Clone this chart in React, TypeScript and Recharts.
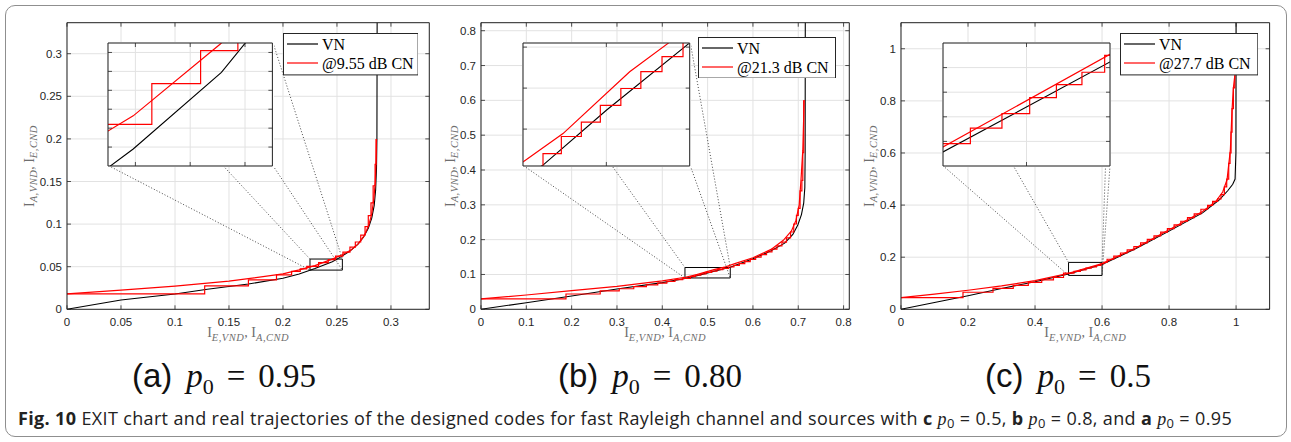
import React from 'react';
import { LineChart, Line, XAxis, YAxis, CartesianGrid, ReferenceArea, ReferenceLine, Legend } from 'recharts';

type Pt = { x: number; y: number };

// ---- (a) p0 = 0.95, CN at 9.55 dB ----
const vnAx = [0, 0.05, 0.1, 0.13, 0.168, 0.2, 0.215, 0.2296, 0.2457, 0.254, 0.262, 0.269, 0.2747, 0.279, 0.2822, 0.2845, 0.2858, 0.2866, 0.287, 0.2872];
const vnAy = [0, 0.011, 0.018, 0.0235, 0.0297, 0.0364, 0.0415, 0.0478, 0.0559, 0.0618, 0.0685, 0.076, 0.085, 0.095, 0.107, 0.122, 0.14, 0.165, 0.2, 0.34];
const cnAx = [0, 0.05, 0.1, 0.15, 0.2, 0.215, 0.2296, 0.2455, 0.255, 0.263, 0.27, 0.2755, 0.2795, 0.2822, 0.2842, 0.2855, 0.2862, 0.2866];
const cnAy = [0.018, 0.0224, 0.0272, 0.033, 0.0415, 0.0462, 0.0513, 0.0589, 0.064, 0.0695, 0.077, 0.087, 0.099, 0.112, 0.13, 0.15, 0.175, 0.2];
const stepAx = [0.1275, 0.168, 0.194, 0.208, 0.216, 0.222, 0.233, 0.2419, 0.2487, 0.2555, 0.262, 0.267, 0.272, 0.276, 0.279, 0.2815, 0.2835, 0.2853, 0.2862];
const stepAy = [0.018, 0.0274, 0.0345, 0.0405, 0.0445, 0.0475, 0.0504, 0.0547, 0.0582, 0.0625, 0.067, 0.073, 0.079, 0.087, 0.097, 0.11, 0.125, 0.145, 0.17, 0.2];

// ---- (b) p0 = 0.80, CN at 21.3 dB ----
const vnBx = [0, 0.1, 0.2, 0.3, 0.4, 0.462, 0.5, 0.5496, 0.6, 0.64, 0.67, 0.688, 0.699, 0.707, 0.712, 0.7145, 0.7152, 0.7155];
const vnBy = [0, 0.019, 0.038, 0.0585, 0.0765, 0.0912, 0.1046, 0.1209, 0.145, 0.168, 0.19, 0.215, 0.242, 0.272, 0.305, 0.35, 0.45, 0.83];
const cnBx = [0, 0.1, 0.2, 0.3, 0.4, 0.4504, 0.474, 0.514, 0.537, 0.56, 0.6, 0.64, 0.667, 0.685, 0.695, 0.702, 0.706, 0.71, 0.713];
const cnBy = [0.0297, 0.041, 0.0536, 0.066, 0.0815, 0.0921, 0.0989, 0.114, 0.1209, 0.131, 0.148, 0.172, 0.198, 0.225, 0.256, 0.3, 0.371, 0.457, 0.601];
const stepBx = [0.1875, 0.263, 0.305, 0.337, 0.365, 0.39, 0.41, 0.428, 0.445, 0.462, 0.473, 0.485, 0.4964, 0.5087, 0.5207, 0.5334, 0.546, 0.558, 0.57, 0.582, 0.594, 0.606, 0.618, 0.63, 0.642, 0.653, 0.664, 0.674, 0.683, 0.69, 0.696, 0.7, 0.704, 0.708, 0.71, 0.712];
const stepBy = [0.0297, 0.044, 0.053, 0.059, 0.065, 0.07, 0.075, 0.08, 0.085, 0.089, 0.094, 0.0982, 0.1017, 0.1058, 0.1099, 0.114, 0.1177, 0.1215, 0.126, 0.131, 0.137, 0.143, 0.15, 0.157, 0.165, 0.173, 0.182, 0.193, 0.205, 0.222, 0.245, 0.27, 0.29, 0.34, 0.37, 0.45, 0.6];

// ---- (c) p0 = 0.5, CN at 27.7 dB ----
const vnCx = [0, 0.2, 0.3, 0.4, 0.5, 0.6, 0.7, 0.8, 0.9, 0.95, 0.975, 0.99, 0.997, 0.9995, 1.0];
const vnCy = [0, 0.052, 0.08, 0.106, 0.1357, 0.1723, 0.232, 0.3, 0.37, 0.42, 0.455, 0.48, 0.5, 0.6, 1.1];
const cnCx = [0, 0.1, 0.2, 0.3, 0.4, 0.5, 0.6, 0.7, 0.8, 0.9, 0.94, 0.96, 0.973, 0.983, 0.988, 0.992, 0.996];
const cnCy = [0.045, 0.058, 0.073, 0.09, 0.11, 0.1377, 0.1754, 0.235, 0.305, 0.375, 0.415, 0.45, 0.497, 0.613, 0.767, 0.85, 0.895];
const stepCx = [0.185, 0.2746, 0.335, 0.38, 0.42, 0.455, 0.485, 0.5164, 0.5353, 0.5519, 0.5679, 0.5832, 0.5968, 0.606, 0.615, 0.635, 0.655, 0.675, 0.695, 0.715, 0.735, 0.755, 0.775, 0.795, 0.815, 0.835, 0.855, 0.875, 0.895, 0.915, 0.93, 0.945, 0.955, 0.965, 0.972, 0.978, 0.982, 0.985, 0.988, 0.992, 0.996];
const stepCy = [0.045, 0.0654, 0.08, 0.092, 0.103, 0.113, 0.122, 0.1391, 0.1454, 0.1513, 0.1578, 0.1631, 0.1681, 0.175, 0.18, 0.192, 0.204, 0.216, 0.228, 0.241, 0.255, 0.268, 0.282, 0.296, 0.31, 0.324, 0.338, 0.352, 0.366, 0.384, 0.399, 0.414, 0.424, 0.44, 0.47, 0.5, 0.56, 0.6, 0.68, 0.77, 0.85, 0.9];

// ticks
const ticksA = [0, 0.05, 0.1, 0.15, 0.2, 0.25, 0.3];
const ticksB = [0, 0.1, 0.2, 0.3, 0.4, 0.5, 0.6, 0.7, 0.8];
const ticksC = [0, 0.2, 0.4, 0.6, 0.8, 1];
const insetTicksAx = [0.23, 0.24, 0.25];
const insetTicksAy = [0.048, 0.05, 0.052, 0.054, 0.056, 0.058];
const insetTicksBx = [0.5];
const insetTicksBy = [0.1, 0.11, 0.12];
const insetTicksCx = [0.55];
const insetTicksCy = [0.14, 0.15, 0.16, 0.17];

const SANS = '"Liberation Sans", Arial, Helvetica, sans-serif';
const SERIF = '"Liberation Serif", "Times New Roman", serif';
const CAP = '"Open Sans", "Noto Sans", sans-serif';
const AX = '#262626';
const GRID = '#e2e2e2';
const TL = 4;

const zip = (xs: number[], ys: number[]): Pt[] => xs.map((x, i) => ({ x, y: ys[i] }));

// horizontal run to each x, then vertical to the next level
function staircase(xs: number[], levels: number[]): Pt[] {
  const out: Pt[] = [{ x: 0, y: levels[0] }];
  xs.forEach((x, i) => {
    out.push({ x, y: levels[i] });
    out.push({ x, y: levels[i + 1] });
  });
  return out;
}

const mkTick = (side: string, withLabel: boolean) => (props: any) => {
  const { x, y, payload } = props;
  const txt = String(payload.value);
  if (side === 'bottom')
    return (
      <g>
        <line x1={x} x2={x} y1={y} y2={y - TL} stroke={AX} strokeWidth={0.8} />
        {withLabel && (
          <text x={x} y={y + 16.5} textAnchor="middle" fill={AX} fontSize={11.5} fontFamily={SANS}>{txt}</text>
        )}
      </g>
    );
  if (side === 'top') return <line x1={x} x2={x} y1={y} y2={y + TL} stroke={AX} strokeWidth={0.8} />;
  if (side === 'left')
    return (
      <g>
        <line x1={x} x2={x + TL} y1={y} y2={y} stroke={AX} strokeWidth={0.8} />
        {withLabel && (
          <text x={x - 5} y={y + 4} textAnchor="end" fill={AX} fontSize={11.5} fontFamily={SANS}>{txt}</text>
        )}
      </g>
    );
  return <line x1={x} x2={x - TL} y1={y} y2={y} stroke={AX} strokeWidth={0.8} />;
};

const TitleSpans = ({ a, b }: { a: string; b: string }) => (
  <>
    <tspan>I</tspan>
    <tspan dy={3.5} fontSize={10.5} fontStyle="italic" letterSpacing={0.5}>{a}</tspan>
    <tspan dy={-3.5}>, I</tspan>
    <tspan dy={3.5} fontSize={10.5} fontStyle="italic" letterSpacing={0.5}>{b}</tspan>
  </>
);

const XTitle = (props: any) => {
  const vb = props.viewBox || {};
  return (
    <text x={vb.x + vb.width / 2} y={vb.y + 28} textAnchor="middle" fill="#6e6e6e" fontFamily={SERIF} fontSize={14}>
      <TitleSpans a="E,VND" b="A,CND" />
    </text>
  );
};

const YTitle = (props: any) => {
  const vb = props.viewBox || {};
  const cx = props.px;
  const cy = vb.y + vb.height / 2;
  return (
    <text x={cx} y={cy} transform={`rotate(-90 ${cx} ${cy})`} textAnchor="middle" dominantBaseline="central" fill="#6e6e6e" fontFamily={SERIF} fontSize={14}>
      <TitleSpans a="A,VND" b="E,CND" />
    </text>
  );
};

type Panel = {
  key: string;
  plot: { l: number; r: number; t: number; b: number };
  xMax: number;
  yMax: number;
  ticks: number[];
  vn: Pt[];
  cn: Pt[];
  traj: Pt[];
  zoom: { x1: number; x2: number; y1: number; y2: number };
  inset: { l: number; t: number; w: number; h: number; x: number[]; y: number[]; xTicks: number[]; yTicks: number[] };
  legend: { l: number; t: number; w: number; h: number; label: string };
  yLabelX: number;
  caption: { cx: number; tag: string; value: string };
};

const panels: Panel[] = [
  {
    key: 'a',
    plot: { l: 66.7, r: 429, t: 22.7, b: 309.3 },
    xMax: 0.3355,
    yMax: 0.3364,
    ticks: ticksA,
    vn: zip(vnAx, vnAy),
    cn: zip(cnAx, cnAy),
    traj: staircase(stepAx, stepAy),
    zoom: { x1: 0.225, x2: 0.255, y1: 0.046, y2: 0.059 },
    inset: { l: 108.3, t: 42.7, w: 164.4, h: 123, x: [0.225, 0.255], y: [0.046, 0.059], xTicks: insetTicksAx, yTicks: insetTicksAy },
    legend: { l: 282.7, t: 33.3, w: 135.6, h: 42.4, label: '@9.55 dB CN' },
    yLabelX: 29,
    caption: { cx: 224, tag: '(a)', value: '0.95' },
  },
  {
    key: 'b',
    plot: { l: 480.7, r: 849, t: 22.7, b: 309.3 },
    xMax: 0.8126,
    yMax: 0.823,
    ticks: ticksB,
    vn: zip(vnBx, vnBy),
    cn: zip(cnBx, cnBy),
    traj: staircase(stepBx, stepBy),
    zoom: { x1: 0.45, x2: 0.55, y1: 0.09, y2: 0.12 },
    inset: { l: 523.3, t: 42.7, w: 166.7, h: 123, x: [0.45, 0.55], y: [0.091, 0.121], xTicks: insetTicksBx, yTicks: insetTicksBy },
    legend: { l: 697.7, t: 36.7, w: 138, h: 41.6, label: '@21.3 dB CN' },
    yLabelX: 450,
    caption: { cx: 650, tag: '(b)', value: '0.80' },
  },
  {
    key: 'c',
    plot: { l: 900.7, r: 1269.3, t: 22.7, b: 309.3 },
    xMax: 1.1,
    yMax: 1.1,
    ticks: ticksC,
    vn: zip(vnCx, vnCy),
    cn: zip(cnCx, cnCy),
    traj: staircase(stepCx, stepCy),
    zoom: { x1: 0.5, x2: 0.6, y1: 0.13, y2: 0.18 },
    inset: { l: 942.7, t: 42.7, w: 167, h: 123, x: [0.5, 0.6], y: [0.13, 0.18], xTicks: insetTicksCx, yTicks: insetTicksCy },
    legend: { l: 1119.7, t: 33.3, w: 138.3, h: 42.4, label: '@27.7 dB CN' },
    yLabelX: 869,
    caption: { cx: 1068, tag: '(c)', value: '0.5' },
  },
];

const LegendBox = ({ p }: { p: Panel }) => {
  const { w, h, label } = p.legend;
  return (
    <svg width={w} height={h} style={{ display: 'block' }}>
      <rect x={0.5} y={0.5} width={w - 1} height={h - 1} fill="#fff" stroke={AX} strokeWidth={1} />
      <line x1={4} x2={35} y1={11} y2={11} stroke="#000" strokeWidth={1.2} />
      <line x1={4} x2={35} y1={30} y2={30} stroke="#ff0000" strokeWidth={1.2} />
      <text x={39} y={16.5} fontFamily={SERIF} fontSize={16} fill="#000">VN</text>
      <text x={39} y={35.5} fontFamily={SERIF} fontSize={16} fill="#000">{label}</text>
    </svg>
  );
};

function MainChart({ p }: { p: Panel }) {
  const { l, r, t, b } = p.plot;
  const chartLeft = l - 60;
  const chartW = r - chartLeft + 4;
  const chartH = 352;
  const toX = (px: number) => ((px - l) / (r - l)) * p.xMax;
  const toY = (py: number) => ((b - py) / (b - t)) * p.yMax;
  const i = p.inset;
  const z = p.zoom;
  const il = toX(i.l);
  const ir = toX(i.l + i.w);
  const it = toY(i.t);
  const ib = toY(i.t + i.h);
  const connectors = [
    [{ x: il, y: ib }, { x: z.x1, y: z.y1 }],
    [{ x: il, y: it }, { x: z.x1, y: z.y2 }],
    [{ x: ir, y: ib }, { x: z.x2, y: z.y1 }],
    [{ x: ir, y: it }, { x: z.x2, y: z.y2 }],
  ];
  return (
    <div style={{ position: 'absolute', left: chartLeft, top: 0 }}>
      <LineChart width={chartW} height={chartH} margin={{ top: t - 1, right: 3, bottom: chartH - b - 36, left: 20 }}>
        <CartesianGrid stroke={GRID} strokeWidth={1} />
        <XAxis type="number" dataKey="x" domain={[0, p.xMax]} allowDataOverflow ticks={p.ticks} interval={0} height={36}
          tickSize={0} tickMargin={0} tickLine={false} stroke={AX} tick={mkTick('bottom', true)} label={<XTitle />} />
        <XAxis xAxisId="top" orientation="top" type="number" dataKey="x" domain={[0, p.xMax]} allowDataOverflow ticks={p.ticks}
          interval={0} height={1} tickSize={0} tickMargin={0} tickLine={false} stroke={AX} tick={mkTick('top', false)} />
        <YAxis type="number" domain={[0, p.yMax]} allowDataOverflow ticks={p.ticks} interval={0} width={40}
          tickSize={0} tickMargin={0} tickLine={false} stroke={AX} tick={mkTick('left', true)} label={<YTitle px={p.yLabelX - chartLeft} />} />
        <YAxis yAxisId="right" orientation="right" type="number" domain={[0, p.yMax]} allowDataOverflow ticks={p.ticks}
          interval={0} width={1} tickSize={0} tickMargin={0} tickLine={false} stroke={AX} tick={mkTick('right', false)} />
        {connectors.map((seg, k) => (
          <ReferenceLine key={k} segment={seg} stroke="#333" strokeWidth={0.9} strokeDasharray="1 2" ifOverflow="visible" />
        ))}
        <Line data={p.vn} dataKey="y" type="linear" stroke="#000" strokeWidth={1.1} dot={false} activeDot={false} isAnimationActive={false} />
        <Line data={p.cn} dataKey="y" type="linear" stroke="#ff0000" strokeWidth={1.2} dot={false} activeDot={false} isAnimationActive={false} />
        <Line data={p.traj} dataKey="y" type="linear" stroke="#ff0000" strokeWidth={1.2} dot={false} activeDot={false} isAnimationActive={false} />
        <ReferenceArea x1={z.x1} x2={z.x2} y1={z.y1} y2={z.y2} fill="#fff" fillOpacity={0} stroke="#000" strokeWidth={1} ifOverflow="visible" />
        <Legend layout="horizontal" verticalAlign="middle" align="center" content={() => <LegendBox p={p} />}
          wrapperStyle={{ left: p.legend.l - chartLeft, top: p.legend.t, width: p.legend.w, height: p.legend.h }} />
      </LineChart>
    </div>
  );
}

function InsetChart({ p }: { p: Panel }) {
  const i = p.inset;
  return (
    <div style={{ position: 'absolute', left: i.l - 1, top: i.t - 1, width: i.w + 2, height: i.h + 2, background: '#fff' }}>
      <LineChart width={i.w + 2} height={i.h + 2} margin={{ top: 0, right: 0, bottom: 0, left: 0 }}>
        <CartesianGrid stroke={GRID} strokeWidth={1} />
        <XAxis type="number" dataKey="x" domain={i.x} allowDataOverflow ticks={i.xTicks} interval={0} height={1}
          tickSize={0} tickMargin={0} tickLine={false} stroke={AX} tick={mkTick('bottom', false)} />
        <XAxis xAxisId="top" orientation="top" type="number" dataKey="x" domain={i.x} allowDataOverflow ticks={i.xTicks}
          interval={0} height={1} tickSize={0} tickMargin={0} tickLine={false} stroke={AX} tick={mkTick('top', false)} />
        <YAxis type="number" domain={i.y} allowDataOverflow ticks={i.yTicks} interval={0} width={1}
          tickSize={0} tickMargin={0} tickLine={false} stroke={AX} tick={mkTick('left', false)} />
        <YAxis yAxisId="right" orientation="right" type="number" domain={i.y} allowDataOverflow ticks={i.yTicks}
          interval={0} width={1} tickSize={0} tickMargin={0} tickLine={false} stroke={AX} tick={mkTick('right', false)} />
        <Line data={p.vn} dataKey="y" type="linear" stroke="#000" strokeWidth={1.1} dot={false} activeDot={false} isAnimationActive={false} />
        <Line data={p.cn} dataKey="y" type="linear" stroke="#ff0000" strokeWidth={1.2} dot={false} activeDot={false} isAnimationActive={false} />
        <Line data={p.traj} dataKey="y" type="linear" stroke="#ff0000" strokeWidth={1.2} dot={false} activeDot={false} isAnimationActive={false} />
      </LineChart>
    </div>
  );
}

const SubCaption = ({ p }: { p: Panel }) => (
  <div style={{ position: 'absolute', left: p.caption.cx, top: 356, transform: 'translateX(-50%)', whiteSpace: 'nowrap', fontSize: 33, lineHeight: '40px', color: '#111' }}>
    <span style={{ fontFamily: SANS }}>{p.caption.tag}</span>
    <span style={{ fontFamily: SERIF, fontStyle: 'italic', marginLeft: 14 }}>p</span>
    <span style={{ fontFamily: SERIF, fontSize: 22, position: 'relative', top: 7 }}>0</span>
    <span style={{ fontFamily: SERIF, margin: '0 13px' }}>=</span>
    <span style={{ fontFamily: SERIF }}>{p.caption.value}</span>
  </div>
);

const P0 = () => (
  <span>
    <i style={{ fontFamily: SERIF }}>p</i>
    <span style={{ fontSize: '0.72em', position: 'relative', top: 3 }}>0</span>
  </span>
);

export default function App() {
  return (
    <div style={{ position: 'absolute', left: 0, top: 0, width: 1291, height: 442, background: '#fff', overflow: 'hidden' }}>
      <div style={{ position: 'absolute', left: 5, top: 5, width: 1280, height: 430, border: '1.5px solid #8f8f8f', borderRadius: 10 }} />
      {panels.map((p) => (
        <React.Fragment key={p.key}>
          <MainChart p={p} />
          <InsetChart p={p} />
          <SubCaption p={p} />
        </React.Fragment>
      ))}
      <div style={{ position: 'absolute', left: 18, top: 406, whiteSpace: 'nowrap', fontFamily: CAP, fontSize: 18, letterSpacing: 0.35, lineHeight: '24px', color: '#222' }}>
        <b>Fig. 10</b> EXIT chart and real trajectories of the designed codes for fast Rayleigh channel and sources with{' '}
        <b>c</b> <P0 /> = 0.5, <b>b</b> <P0 /> = 0.8, and <b>a</b> <P0 /> = 0.95
      </div>
    </div>
  );
}
